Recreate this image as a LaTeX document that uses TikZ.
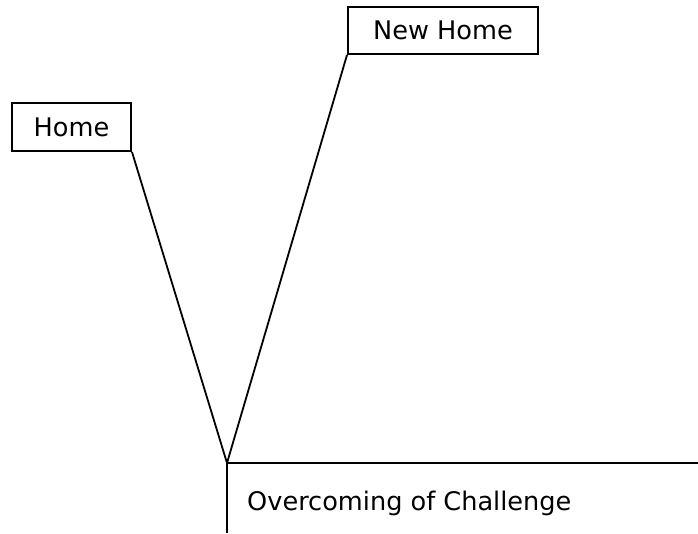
\documentclass[tikz,border=0pt]{standalone}
\usepackage{fontspec}
\setmainfont{DejaVu Sans}
\begin{document}
\begin{tikzpicture}[x=1pt,y=-1pt,
  boxnode/.style={draw=black,line width=2pt,rectangle,inner sep=0pt,font=\fontsize{25.6}{30}\selectfont},
  conn/.style={draw=black,line width=1.8pt},
  label/.style={inner sep=0pt,font=\fontsize{25.6}{30}\selectfont}]
\useasboundingbox (0,0) rectangle (698,533);
\node[boxnode,minimum width=119pt,minimum height=48pt] (home) at (71.5,127) {Home};
\node[boxnode,minimum width=190pt,minimum height=47pt] (newhome) at (443,30.5) {New Home};
\coordinate (v) at (227,463);
\coordinate (hend) at (698,463);
\coordinate (vend) at (227,533);
\node[label,anchor=base west] (ooc) at (247,510) {Overcoming of Challenge};
\draw[conn] (home.south east) -- (v);
\draw[conn] (newhome.south west) -- (v);
\draw[conn] (v) -- (hend);
\draw[conn] (v) -- (vend);
\end{tikzpicture}
\end{document}
